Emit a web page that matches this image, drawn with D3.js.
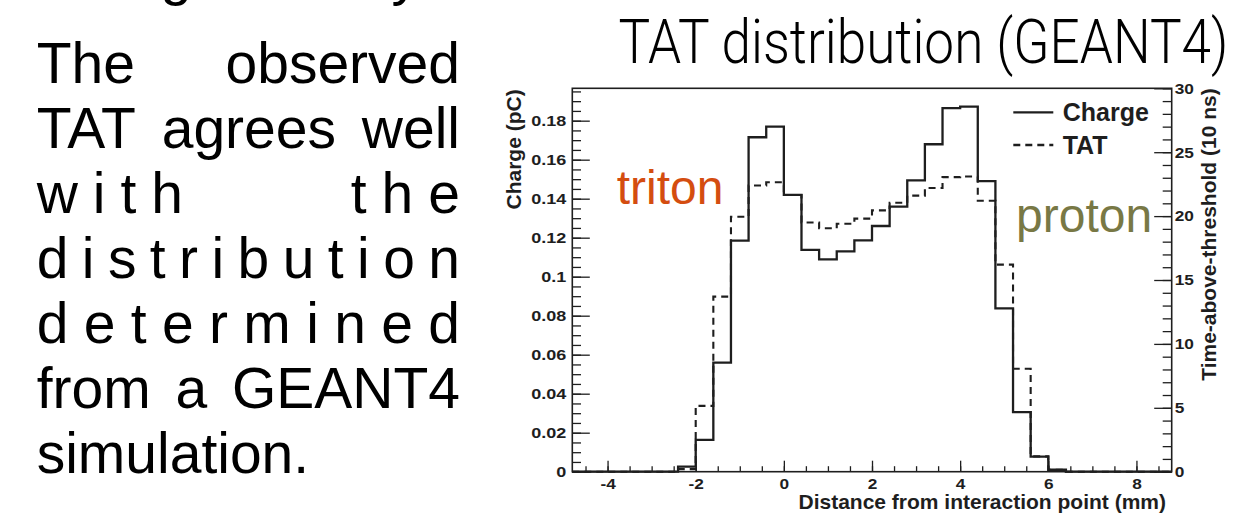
<!DOCTYPE html>
<html>
<head>
<meta charset="utf-8">
<script src="https://cdn.jsdelivr.net/npm/d3@7"></script>
<style>
  html, body { margin: 0; padding: 0; background: #fff; }
  svg { display: block; }
</style>
</head>
<body>
<svg id="slide" width="1240" height="513"></svg>
<script>
// ---- Histogram data: 34 bins of 0.4 mm ----
const binLowEdges = [-4.8, -4.4, -4.0, -3.6, -3.2, -2.8, -2.4, -2.0, -1.6, -1.2,
                     -0.8, -0.4, 0.0, 0.4, 0.8, 1.2, 1.6, 2.0, 2.4, 2.8,
                     3.2, 3.6, 4.0, 4.4, 4.8, 5.2, 5.6, 6.0, 6.4, 6.8,
                     7.2, 7.6, 8.0, 8.4];
const binWidth = 0.4;

// Collected charge per bin (pC)
const chargeValues = [0, 0, 0, 0, 0, 0, 0.0026, 0.0163, 0.0559, 0.1185,
                      0.1715, 0.1769, 0.1419, 0.1137, 0.1089, 0.1130, 0.1186, 0.1260, 0.1359, 0.1494,
                      0.1679, 0.1864, 0.1872, 0.1490, 0.0838, 0.0305, 0.0077, 0.0010, 0, 0,
                      0, 0, 0, 0];

// Time above threshold per bin (units of 10 ns)
const tatValues = [0, 0, 0, 0, 0, 0, 0.2, 5.15, 13.7, 19.95,
                   22.4, 22.65, 21.65, 19.5, 19.05, 19.4, 19.8, 20.45, 21.05, 21.6,
                   22.2, 23.05, 23.1, 21.2, 16.2, 8.05, 1.2, 0.15, 0, 0,
                   0, 0, 0, 0];

// ---- Axis ticks ----
const xTickValues = [-4, -2, 0, 2, 4, 6, 8];
const xTickLabels = ["-4", "-2", "0", "2", "4", "6", "8"];
const chargeTickValues = [0, 0.02, 0.04, 0.06, 0.08, 0.1, 0.12, 0.14, 0.16, 0.18];
const chargeTickLabels = ["0", "0.02", "0.04", "0.06", "0.08", "0.1", "0.12", "0.14", "0.16", "0.18"];
const tatTickValues = [0, 5, 10, 15, 20, 25, 30];
const tatTickLabels = ["0", "5", "10", "15", "20", "25", "30"];

// ---- Texts ----
const legendLabels = ["Charge", "TAT"];
const chartTitle = "TAT distribution (GEANT4)";
const xTitle = "Distance from interaction point (mm)";
const yLeftTitle = "Charge (pC)";
const yRightTitle = "Time-above-threshold (10 ns)";
const bodyLines = [
  { words: ["The", "observed"], track: 0 },
  { words: ["TAT", "agrees", "well"], track: 0 },
  { words: ["with", "the"], track: 15 },
  { words: ["distribution"], track: null },
  { words: ["determined"], track: null },
  { words: ["from", "a", "GEANT4"], track: 0 },
  { words: ["simulation."], track: 0, last: true }
];

const svg = d3.select("#slide");
const SANS = "'Liberation Sans', Arial, Helvetica, sans-serif";
const INK = "#1e1e1e";

// ---- Slide body text (justified column) ----
const col = { left: 36.7, right: 460, firstBaseline: 83.3, lineStep: 65, size: 57 };
const body = svg.append("g").attr("font-family", SANS).attr("font-size", col.size).attr("fill", "#000");

// descenders of the previous heading line, cut by the top edge
body.append("text").attr("x", col.left).attr("y", -6).text("Charge density");

bodyLines.forEach((line, li) => {
  const y = col.firstBaseline + li * col.lineStep;
  const colW = col.right - col.left;
  const nodes = line.words.map(w => body.append("text").attr("y", y).text(w));
  if (line.track === null) {
    nodes[0].attr("x", col.left).attr("textLength", colW).attr("lengthAdjust", "spacing");
    return;
  }
  const widths = nodes.map((n, i) => {
    const nat = n.node().getComputedTextLength();
    const w = nat + line.track * (line.words[i].length - 1);
    if (line.track > 0) n.attr("textLength", w).attr("lengthAdjust", "spacing");
    return w;
  });
  if (line.last || nodes.length === 1) { nodes[0].attr("x", col.left); return; }
  const gap = (colW - d3.sum(widths)) / (nodes.length - 1);
  let cx = col.left;
  nodes.forEach((n, i) => { n.attr("x", cx); cx += widths[i] + gap; });
});

// ---- Chart ----
const plot = { left: 572.3, right: 1171.7, top: 88.3, bottom: 471.7 };
const x = d3.scaleLinear().domain([-4.8, 8.8]).range([plot.left, plot.right]);
const yCharge = d3.scaleLinear().domain([0, 0.1966]).range([plot.bottom, plot.top]);
const yTat = d3.scaleLinear().domain([0, 30]).range([plot.bottom, plot.top]);

// title (light, narrow sans)
svg.append("text")
  .attr("x", 618.4).attr("y", 63.3)
  .attr("font-family", "Roboto, 'Liberation Sans', Arial, sans-serif")
  .attr("font-weight", 300).attr("font-size", 61).attr("fill", "#000")
  .attr("textLength", 610).attr("lengthAdjust", "spacingAndGlyphs")
  .text(chartTitle);

// histograms as step lines
function histPoints(values) {
  const pts = binLowEdges.map((e, i) => [e, values[i]]);
  pts.push([binLowEdges[binLowEdges.length - 1] + binWidth, values[values.length - 1]]);
  return pts;
}
const lineCharge = d3.line().x(d => x(d[0])).y(d => yCharge(d[1])).curve(d3.curveStepAfter);
const lineTat = d3.line().x(d => x(d[0])).y(d => yTat(d[1])).curve(d3.curveStepAfter);

svg.append("path")
  .attr("d", lineTat(histPoints(tatValues)))
  .attr("fill", "none").attr("stroke", INK).attr("stroke-width", 2.1)
  .attr("stroke-dasharray", "7,5");
svg.append("path")
  .attr("d", lineCharge(histPoints(chargeValues)))
  .attr("fill", "none").attr("stroke", INK).attr("stroke-width", 2.3);

// ticks (pointing inward)
function ticksOnly(g, axis) {
  g.call(axis);
  g.select(".domain").remove();
  g.selectAll(".tick line").attr("stroke", INK).attr("stroke-width", 1.3);
  g.selectAll(".tick text").remove();
}
const xMinor = d3.range(-4.5, 8.8, 0.5);
const cMinor = d3.range(0, 0.196, 0.005);
const tMinor = d3.range(0, 30.5, 1);

ticksOnly(svg.append("g").attr("transform", `translate(0,${plot.bottom})`),
  d3.axisTop(x).tickValues(xTickValues).tickSize(11));
ticksOnly(svg.append("g").attr("transform", `translate(0,${plot.bottom})`),
  d3.axisTop(x).tickValues(xMinor).tickSize(5.5));
ticksOnly(svg.append("g").attr("transform", `translate(${plot.left},0)`),
  d3.axisRight(yCharge).tickValues(chargeTickValues).tickSize(17.5));
ticksOnly(svg.append("g").attr("transform", `translate(${plot.left},0)`),
  d3.axisRight(yCharge).tickValues(cMinor).tickSize(8.7));
ticksOnly(svg.append("g").attr("transform", `translate(${plot.right},0)`),
  d3.axisLeft(yTat).tickValues(tatTickValues).tickSize(17.5));
ticksOnly(svg.append("g").attr("transform", `translate(${plot.right},0)`),
  d3.axisLeft(yTat).tickValues(tMinor).tickSize(9));

// tick labels
function labelsOnly(g, axis, stretch) {
  g.call(axis);
  g.select(".domain").remove();
  g.selectAll(".tick line").remove();
  g.selectAll(".tick text")
    .attr("font-family", SANS).attr("font-weight", "bold").attr("font-size", 15)
    .attr("fill", INK)
    .each(function () {
      const w = this.getComputedTextLength();
      d3.select(this).attr("textLength", w * stretch).attr("lengthAdjust", "spacingAndGlyphs");
    });
}
labelsOnly(svg.append("g").attr("transform", `translate(0,${plot.bottom})`),
  d3.axisBottom(x).tickValues(xTickValues).tickSize(0).tickPadding(7)
    .tickFormat((d, i) => xTickLabels[i]), 1.15);
labelsOnly(svg.append("g").attr("transform", `translate(${plot.left},0)`),
  d3.axisLeft(yCharge).tickValues(chargeTickValues).tickSize(0).tickPadding(6)
    .tickFormat((d, i) => chargeTickLabels[i]), 1.2);
labelsOnly(svg.append("g").attr("transform", `translate(${plot.right},0)`),
  d3.axisRight(yTat).tickValues(tatTickValues).tickSize(0).tickPadding(3)
    .tickFormat((d, i) => tatTickLabels[i]), 1.15);

// frame
svg.append("rect")
  .attr("x", plot.left).attr("y", plot.top)
  .attr("width", plot.right - plot.left).attr("height", plot.bottom - plot.top)
  .attr("fill", "none").attr("stroke", INK).attr("stroke-width", 1.6);

// axis titles
svg.append("text")
  .attr("x", 1166).attr("y", 509).attr("text-anchor", "end")
  .attr("font-family", SANS).attr("font-weight", "bold").attr("font-size", 21).attr("fill", INK)
  .text(xTitle);
svg.append("text")
  .attr("transform", `translate(521,${plot.top + 1}) rotate(-90)`).attr("text-anchor", "end")
  .attr("font-family", SANS).attr("font-weight", "bold").attr("font-size", 21).attr("fill", INK)
  .text(yLeftTitle);
svg.append("text")
  .attr("transform", `translate(1216,${plot.top}) rotate(-90)`).attr("text-anchor", "end")
  .attr("font-family", SANS).attr("font-weight", "bold").attr("font-size", 21).attr("fill", INK)
  .text(yRightTitle);

// legend
const legend = svg.append("g").attr("font-family", SANS).attr("font-weight", "bold")
  .attr("font-size", 25).attr("fill", INK);
const legendRows = [
  { label: legendLabels[0], y: 112.3, dash: null },
  { label: legendLabels[1], y: 145, dash: "7,5" }
];
legendRows.forEach(r => {
  legend.append("line")
    .attr("x1", 1013.3).attr("x2", 1053.3).attr("y1", r.y).attr("y2", r.y)
    .attr("stroke", INK).attr("stroke-width", 2.3)
    .attr("stroke-dasharray", r.dash);
  legend.append("text").attr("x", 1062.7).attr("y", r.y + 8.5).text(r.label);
});

// particle annotations
svg.append("text").attr("x", 616.7).attr("y", 204)
  .attr("font-family", SANS).attr("font-size", 48).attr("fill", "#d44d10").text("triton");
svg.append("text").attr("x", 1016).attr("y", 231.7)
  .attr("font-family", SANS).attr("font-size", 48).attr("fill", "#787845").text("proton");
</script>
</body>
</html>
